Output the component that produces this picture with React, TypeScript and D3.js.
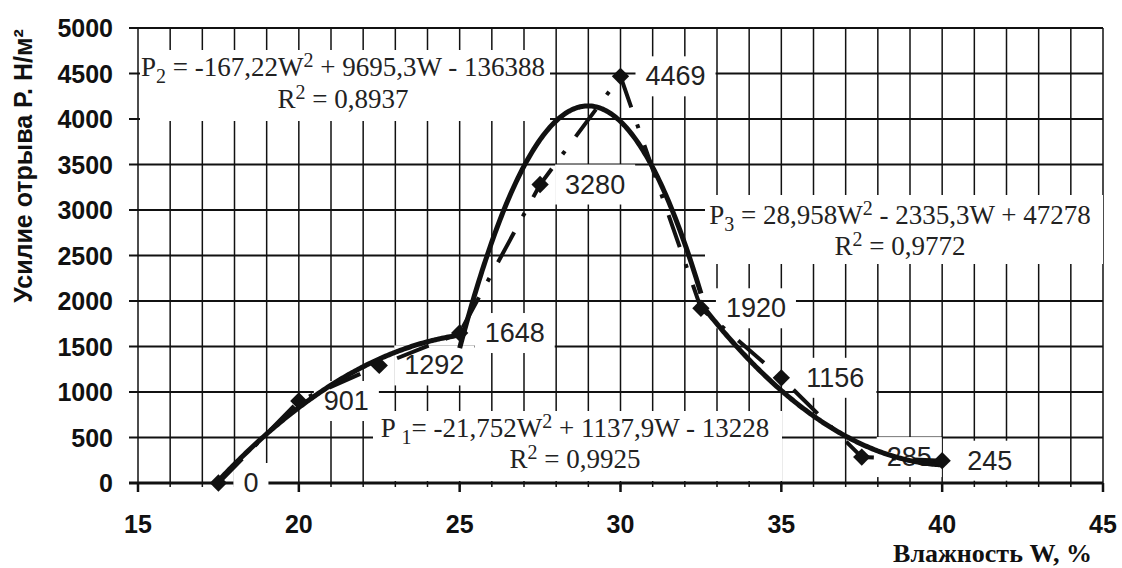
import React from "react";
import * as d3 from "d3";

// measured points: moisture W, % and peel force P, N/m2
const moisture = [17.5, 20, 22.5, 25, 27.5, 30, 32.5, 35, 37.5, 40];
const force = [0, 901, 1292, 1648, 3280, 4469, 1920, 1156, 285, 245];

const xTicks = [15, 20, 25, 30, 35, 40, 45];
const yTicks = [0, 500, 1000, 1500, 2000, 2500, 3000, 3500, 4000, 4500, 5000];

// trend lines as printed on the chart: a*W^2 + b*W + c
const trendA = [-21.752, -167.22, 28.958];
const trendB = [1137.9, 9695.3, -2335.3];
const trendC = [-13228, -136388, 47278];
const trendFrom = [17.5, 25, 32.5];
const trendTo = [25, 32.5, 40];

const eqPrefix = ["P ", "P", "P"];
const eqIndex = ["1", "2", "3"];
const eqLeft = ["= -21,752W", " = -167,22W", " = 28,958W"];
const eqRight = [" + 1137,9W - 13228", " + 9695,3W - 136388", " - 2335,3W + 47278"];
const eqR2 = ["0,9925", "0,8937", "0,9772"];

// white boxes behind the equations (pixels)
const eqBox = [
  { x0: 373, x1: 782, y0: 411, y1: 481, cx: 575, b1: 437, b2: 468 },
  { x0: 140, x1: 550, y0: 50, y1: 121, cx: 343, b1: 76, b2: 108 },
  { x0: 705, x1: 1103, y0: 195, y1: 264, cx: 900, b1: 224, b2: 255 },
];

const W = 1122;
const H = 568;
const ink = "#111";
const sans = "'Liberation Sans', Arial, sans-serif";
const serif = "'Liberation Serif', 'Times New Roman', serif";

export default function App() {
  const x = d3.scaleLinear().domain([15, 45]).range([138, 1103]);
  const y = d3.scaleLinear().domain([0, 5000]).range([483, 28]);

  const minor = d3.range(15, 46, 1);
  const pts = moisture.map((w, i) => [w, force[i]] as [number, number]);

  const line = d3
    .line<[number, number]>()
    .x((d) => x(d[0]))
    .y((d) => y(d[1]));

  const trends = trendA.map((a, i) => {
    const ws = d3.range(trendFrom[i], trendTo[i] + 1e-6, 0.05);
    return ws.map((w) => [w, a * w * w + trendB[i] * w + trendC[i]] as [number, number]);
  });

  const diamond = d3.symbol(d3.symbolSquare, 150)();
  const fs = 27;

  return (
    <svg
      width={W}
      height={H}
      style={{ position: "absolute", left: 0, top: 0, background: "#fff" }}
    >
      {/* grid */}
      <g stroke={ink}>
        {minor.map((w) => (
          <line key={"v" + w} x1={x(w)} x2={x(w)} y1={y(5000)} y2={y(0)} strokeWidth={1.5} />
        ))}
        {yTicks.map((t) => (
          <line key={"h" + t} x1={129} x2={x(45)} y1={y(t)} y2={y(t)} strokeWidth={t === 0 ? 3 : 2} />
        ))}
        {minor.map((w) => (
          <line key={"m" + w} x1={x(w)} x2={x(w)} y1={y(0)} y2={y(0) + 4} strokeWidth={1.5} />
        ))}
        {xTicks.map((w) => (
          <line key={"t" + w} x1={x(w)} x2={x(w)} y1={y(0)} y2={y(0) + 9} strokeWidth={2.5} />
        ))}
      </g>

      {/* axis labels */}
      <g fontFamily={sans} fontWeight="bold" fontSize={25} fill={ink}>
        {yTicks.map((t) => (
          <text key={"yl" + t} x={113} y={y(t)} textAnchor="end" dominantBaseline="central">
            {t}
          </text>
        ))}
        {xTicks.map((w) => (
          <text key={"xl" + w} x={x(w)} y={524} textAnchor="middle" dominantBaseline="central">
            {w}
          </text>
        ))}
        <text
          transform={`translate(23,166) rotate(-90)`}
          textAnchor="middle"
          dominantBaseline="central"
          fontSize={25}
        >
          Усилие отрыва Р. Н/м²
        </text>
      </g>
      <text
        x={1092}
        y={562}
        textAnchor="end"
        fontFamily={serif}
        fontWeight="bold"
        fontSize={26}
        fill={ink}
      >
        Влажность W, %
      </text>

      {/* trend equations */}
      {eqBox.map((b, i) => (
        <g key={"eq" + i} fontFamily={serif} fontSize={27} fill="#222">
          <rect x={b.x0} y={b.y0} width={b.x1 - b.x0} height={b.y1 - b.y0} fill="#fff" />
          <text x={b.cx} y={b.b1} textAnchor="middle">
            {eqPrefix[i]}
            <tspan fontSize={20} dy={7}>
              {eqIndex[i]}
            </tspan>
            <tspan dy={-7}>{eqLeft[i]}</tspan>
            <tspan fontSize={20} dy={-9}>
              2
            </tspan>
            <tspan dy={9}>{eqRight[i]}</tspan>
          </text>
          <text x={b.cx} y={b.b2} textAnchor="middle">
            R
            <tspan fontSize={20} dy={-9}>
              2
            </tspan>
            <tspan dy={9}>{" = " + eqR2[i]}</tspan>
          </text>
        </g>
      ))}

      {/* data labels */}
      {pts.map((d, i) => {
        const tw = String(force[i]).length * 0.556 * fs;
        const lx = x(d[0]) + 25;
        const ly = y(d[1]);
        return (
          <g key={"lb" + i}>
            <rect x={lx - 10} y={ly - 20} width={tw + 20} height={40} fill="#fff" />
            <text
              x={lx}
              y={ly}
              dominantBaseline="central"
              fontFamily={sans}
              fontSize={fs}
              fill="#222"
            >
              {force[i]}
            </text>
          </g>
        );
      })}

      {/* polynomial trends */}
      {trends.map((t, i) => (
        <path key={"tr" + i} d={line(t) ?? ""} fill="none" stroke={ink} strokeWidth={5} />
      ))}

      {/* measured series */}
      <path
        d={line(pts) ?? ""}
        fill="none"
        stroke={ink}
        strokeWidth={4}
        strokeDasharray="34 18 4 18"
      />
      {pts.map((d, i) => (
        <path
          key={"mk" + i}
          d={diamond ?? ""}
          transform={`translate(${x(d[0])},${y(d[1])}) rotate(45)`}
          fill={ink}
        />
      ))}
    </svg>
  );
}
